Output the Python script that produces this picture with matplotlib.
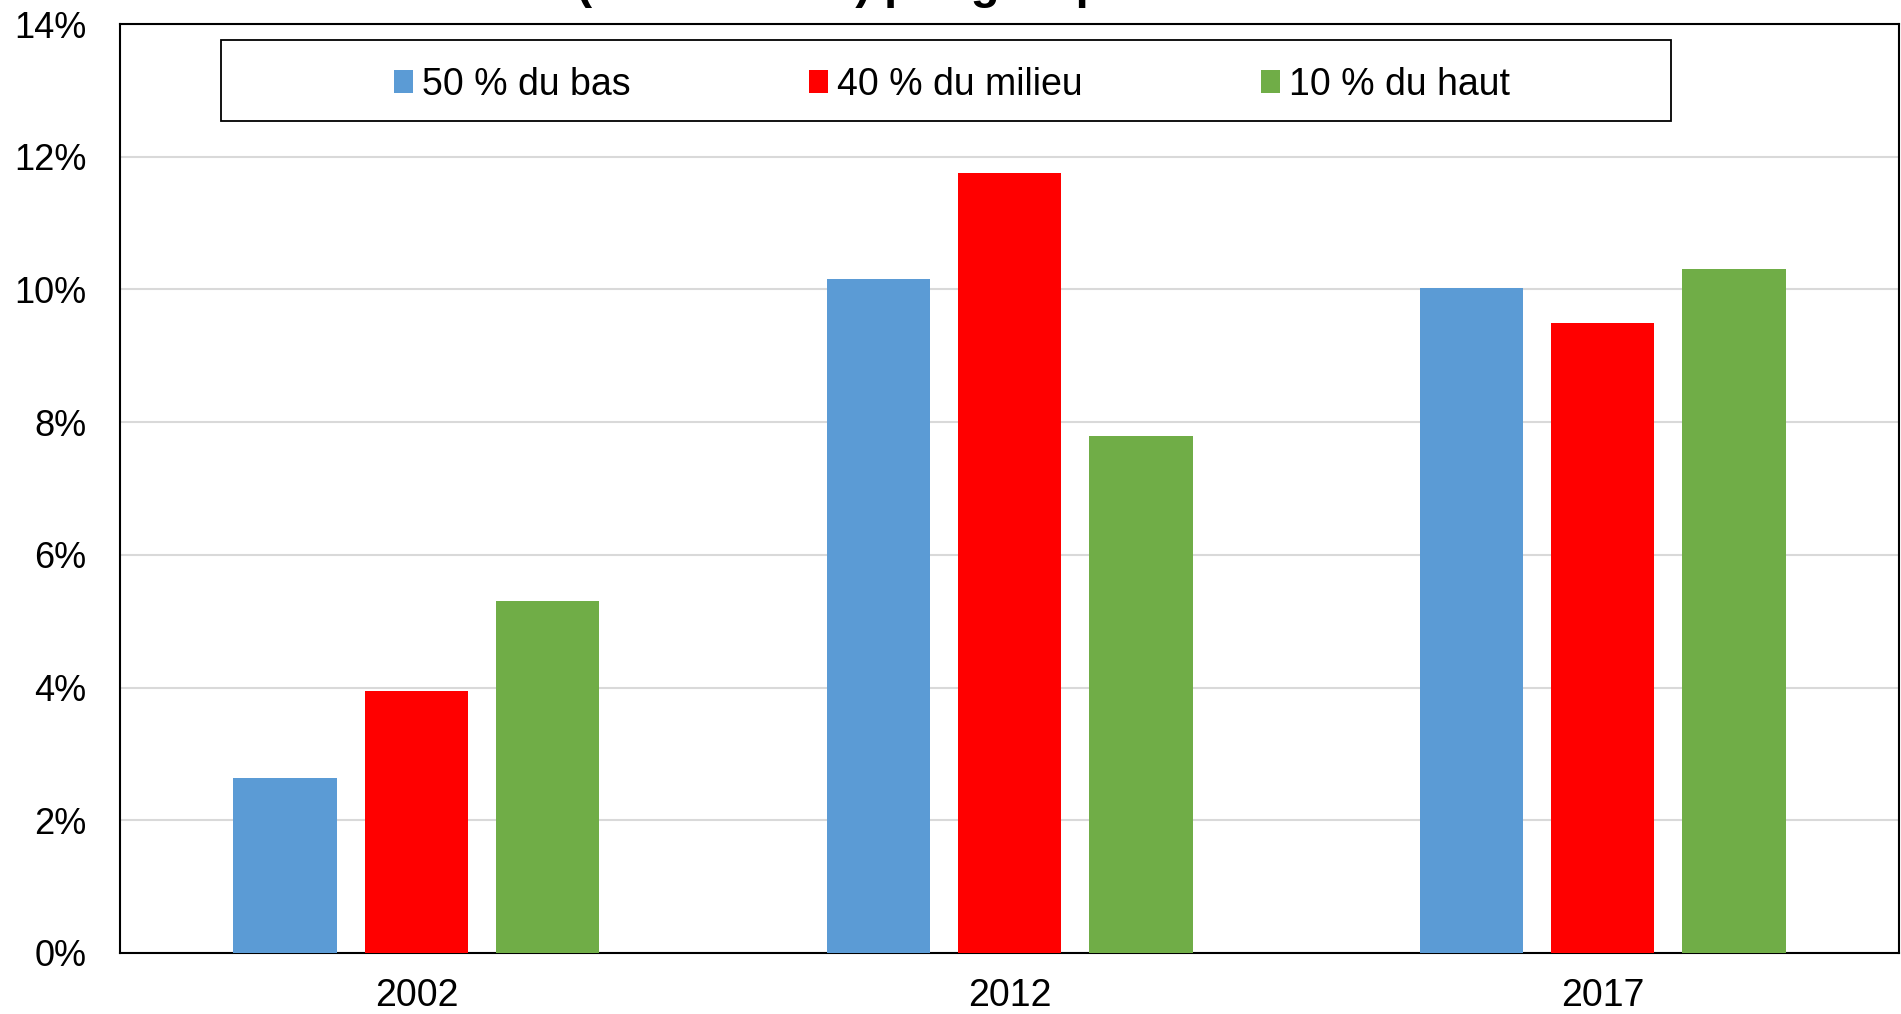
import numpy as np
import matplotlib
matplotlib.use("Agg")
import matplotlib.pyplot as plt
from matplotlib.patches import Rectangle
from matplotlib.ticker import FuncFormatter

# growth by group, in %
years = ["2002", "2012", "2017"]
groups = ["50 % du bas", "40 % du milieu", "10 % du haut"]
bas = [2.63, 10.15, 10.02]
milieu = [3.95, 11.75, 9.49]
haut = [5.30, 7.79, 10.31]
colors = ["#5B9BD5", "#FF0000", "#70AD47"]

title = "Taux de croissance (2002 à 2017) par groupe de revenu"

plt.rcParams["font.family"] = ["Liberation Sans", "DejaVu Sans"]

fig = plt.figure(figsize=(19.01, 10.14), dpi=100)
ax = fig.add_axes([0.0631, 0.0602, 0.9359, 0.9161])

x = np.arange(len(years))
width = 0.174
step = 0.2216
for i, (vals, col, lab) in enumerate(zip([bas, milieu, haut], colors, groups)):
    ax.bar(x + (i - 1) * step, vals, width=width, color=col, label=lab, zorder=3)

ax.set_xlim(-0.5, 2.5)
ax.set_ylim(0, 14)
ax.set_yticks(np.arange(0, 15, 2))
ax.yaxis.set_major_formatter(FuncFormatter(lambda v, p: f"{v:.0f}%"))
ax.set_xticks(x)
ax.set_xticklabels(years)
ax.tick_params(axis="y", length=0, pad=24, labelsize=26)
ax.tick_params(axis="x", length=0, pad=18, labelsize=27)

ax.grid(axis="y", color="#d9d9d9", linewidth=1.5, zorder=0)
for s in ax.spines.values():
    s.set_color("black")
    s.set_linewidth(1.5)

# legend sits in its own framed box
box = Rectangle((0.1163, 0.8807), 0.7628, 0.0799, transform=fig.transFigure,
                facecolor="white", edgecolor="black", linewidth=1.3, zorder=4)
fig.add_artist(box)
handles, labels = ax.get_legend_handles_labels()
fig.legend(handles, labels, loc="center", bbox_to_anchor=(0.5008, 0.9165),
           ncol=3, frameon=False, fontsize=27, handlelength=0.5, handleheight=0.55,
           handletextpad=0.25, columnspacing=4.75)

# title mostly runs off the top edge
fig.text(128 / 1901, 1.0015, title, fontsize=34, fontweight="bold",
         ha="left", va="baseline")

fig.savefig("out.png", dpi=100)
